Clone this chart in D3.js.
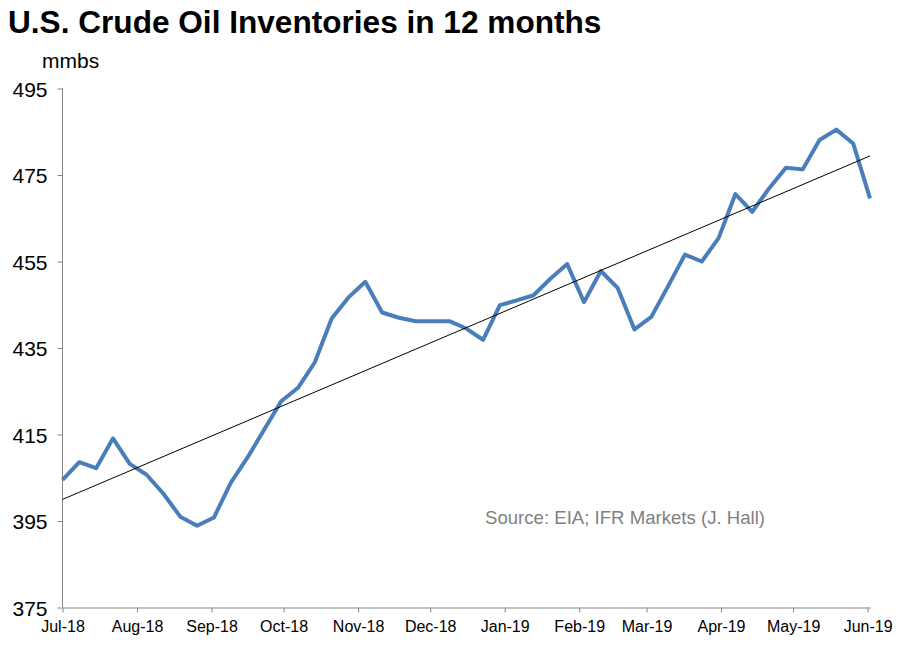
<!DOCTYPE html>
<html lang="en">
<head>
<meta charset="utf-8">
<title>U.S. Crude Oil Inventories</title>
<script src="https://cdn.jsdelivr.net/npm/d3@7"></script>
<style>
  body { margin: 0; background: #fff; }
  svg text { font-family: "Liberation Sans", Arial, sans-serif; }
  .axis path, .axis line { stroke: #868686; }
</style>
</head>
<body>
<script>
// weekly inventories, mmbs
var startDate = "2018-07-01";
var values = [
  404.5, 408.6, 407.2, 414.1, 408.2, 405.7, 401.3, 396.0, 393.9, 395.8,
  403.8, 409.7, 416.2, 422.7, 425.8, 431.7, 441.8, 446.7, 450.3, 443.2,
  442.0, 441.2, 441.2, 441.2, 439.5, 436.9, 444.9, 446.0, 447.2, 451.0,
  454.4, 445.6, 452.8, 448.9, 439.3, 442.2, 449.3, 456.6, 455.0, 460.4,
  470.6, 466.5, 471.9, 476.7, 476.3, 483.1, 485.5, 482.3, 469.6
];
var yTicks = [375, 395, 415, 435, 455, 475, 495];
var title = "U.S. Crude Oil Inventories in 12 months";
var unitLabel = "mmbs";
var sourceNote = "Source: EIA; IFR Markets (J. Hall)";

var W = 912, H = 662;
var start = new Date(startDate + "T00:00:00");
var data = values.map(function(v, i) {
  return { date: d3.timeDay.offset(start, i * 7), value: v };
});

var svg = d3.select("body").append("svg")
  .attr("width", W).attr("height", H);

var x = d3.scaleTime()
  .domain([start, d3.timeDay.offset(start, 336)])
  .range([62.5, 870]);
var y = d3.scaleLinear()
  .domain([375, 495])
  .range([607.5, 88.5]);

// axes
var xAxis = d3.axisBottom(x)
  .tickValues(d3.timeMonth.range(start, new Date("2019-06-02T00:00:00")))
  .tickFormat(d3.timeFormat("%b-%y"))
  .tickSize(5).tickSizeOuter(0);
var gx = svg.append("g").attr("class", "axis")
  .attr("transform", "translate(0," + y(375) + ")")
  .call(xAxis);
gx.selectAll("text").attr("font-size", 16).attr("fill", "#000")
  .attr("dy", "1.55em").attr("y", 0)
  .attr("font-family", "Liberation Sans, Arial, sans-serif");

var yAxis = d3.axisLeft(y).tickValues(yTicks).tickSize(5).tickSizeOuter(0);
var gy = svg.append("g").attr("class", "axis")
  .attr("transform", "translate(" + x(start) + ",0)")
  .call(yAxis);
gy.selectAll("text").attr("font-size", 21).attr("fill", "#000")
  .attr("x", -15).attr("dy", "0.36em")
  .attr("font-family", "Liberation Sans, Arial, sans-serif");
gy.select(".domain").remove();
gy.append("line").attr("x1", 0).attr("x2", 0)
  .attr("y1", y(495)).attr("y2", y(375)).attr("stroke", "#868686");

// linear trend (least squares over the weekly points)
var n = data.length;
var mx = d3.mean(data, function(d, i) { return i; });
var my = d3.mean(data, function(d) { return d.value; });
var sxy = d3.sum(data, function(d, i) { return (i - mx) * (d.value - my); });
var sxx = d3.sum(data, function(d, i) { return (i - mx) * (i - mx); });
var slope = sxy / sxx, icpt = my - slope * mx;
var trend = [0, n - 1].map(function(i) {
  return { date: data[i].date, value: icpt + slope * i };
});

var line = d3.line()
  .x(function(d) { return x(d.date); })
  .y(function(d) { return y(d.value); });

svg.append("path").datum(data)
  .attr("d", line)
  .attr("fill", "none")
  .attr("stroke", "#4a7ebb")
  .attr("stroke-width", 4)
  .attr("stroke-linejoin", "round");

svg.append("path").datum(trend)
  .attr("d", line)
  .attr("fill", "none")
  .attr("stroke", "#000")
  .attr("stroke-width", 1);

// texts
svg.append("text").attr("x", 8).attr("y", 33)
  .attr("font-size", 31.6).attr("font-weight", "bold").text(title);
svg.append("text").attr("x", 42).attr("y", 68)
  .attr("font-size", 21).text(unitLabel);
svg.append("text").attr("x", 485).attr("y", 524)
  .attr("font-size", 18.6).attr("fill", "#7f7f7f").text(sourceNote);
</script>
</body>
</html>
